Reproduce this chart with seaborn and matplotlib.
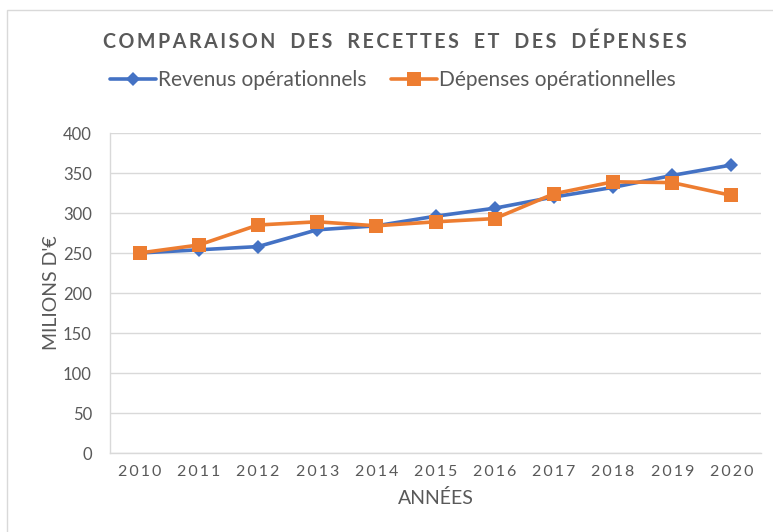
import pandas as pd
import seaborn as sns
import matplotlib.pyplot as plt
from matplotlib.patches import Rectangle
from matplotlib.lines import Line2D

years = [2010, 2011, 2012, 2013, 2014, 2015, 2016, 2017, 2018, 2019, 2020]
revenus = [250, 254, 258, 279, 284, 296, 306, 320, 332, 347, 360]
depenses = [250, 260, 285, 289, 284, 289, 293, 324, 339, 338, 322]
series_names = ["Revenus opérationnels", "Dépenses opérationnelles"]
y_ticks = [0, 50, 100, 150, 200, 250, 300, 350, 400]
title = "COMPARAISON DES RECETTES ET DES DÉPENSES"

df = pd.DataFrame({
    "idx": list(range(len(years))) * 2,
    "value": revenus + depenses,
    "serie": [series_names[0]] * len(years) + [series_names[1]] * len(years),
})

sns.set_style("white")
plt.rcParams['font.family'] = ['Lato', 'DejaVu Sans']
grey = "#595959"


def spaced(s):
    # Excel-style letter spacing
    return "\u2009".join(s)


fig = plt.figure(figsize=(7.73, 5.32), dpi=100)
ax = fig.add_axes([110 / 773, (532 - 453) / 532, 651 / 773, 320 / 532])

palette = {series_names[0]: "#4472C4", series_names[1]: "#ED7D31"}
markers = {series_names[0]: "D", series_names[1]: "s"}
sns.lineplot(data=df, x="idx", y="value", hue="serie", style="serie",
             palette=palette, markers=markers, dashes=False, linewidth=2.6,
             markeredgewidth=0, ax=ax, legend=False)
for line, ms in zip(ax.lines, [7.5, 10]):
    line.set_markersize(ms)

ax.set_xlim(-0.5, len(years) - 0.5)
ax.set_ylim(0, 400)
ax.set_yticks(y_ticks)
ax.set_yticklabels([str(v) for v in y_ticks], fontsize=12, color=grey)
ax.set_xticks(range(len(years)))
ax.set_xticklabels([spaced(str(y)) for y in years], fontsize=11.5, color=grey)
ax.tick_params(axis="x", length=0, pad=9)
ax.set_xticks([i - 0.5 for i in range(len(years) + 1)], minor=True)
ax.tick_params(axis="x", which="minor", length=5, color="#D9D9D9", width=1)
ax.tick_params(axis="y", length=5, color="#D9D9D9", width=1, pad=8)
ax.grid(axis="y", color="#D9D9D9", linewidth=1)
for s in ["top", "right"]:
    ax.spines[s].set_visible(False)
for s in ["left", "bottom"]:
    ax.spines[s].set_color("#D9D9D9")
    ax.spines[s].set_linewidth(1)

ax.set_xlabel("ANNÉES", fontsize=14, color=grey, labelpad=7)
ax.set_ylabel("MILIONS D'€", fontsize=14, color=grey, labelpad=2)

fig.text(395 / 773, 1 - 42 / 532, "\u2009".join(title.replace(" ", "\u2002")),
         ha="center", va="center", fontsize=14.1, fontweight="bold", color=grey)

handles = [Line2D([], [], color="#4472C4", lw=2.6, marker="D", markersize=7.5, markeredgewidth=0),
           Line2D([], [], color="#ED7D31", lw=2.6, marker="s", markersize=10, markeredgewidth=0)]
leg = fig.legend(handles, series_names, loc="center", bbox_to_anchor=(393 / 773, 1 - 80 / 532),
                 ncol=2, frameon=False, fontsize=15, handlelength=2.2, handletextpad=0.1,
                 columnspacing=1.2)
for t in leg.get_texts():
    t.set_color(grey)

fig.patches.append(Rectangle((7 / 773, -0.1), 1.2, (532 - 10) / 532 + 0.1,
                             transform=fig.transFigure, fill=False,
                             edgecolor="#D9D9D9", linewidth=1))

fig.savefig("out.png", dpi=100)
